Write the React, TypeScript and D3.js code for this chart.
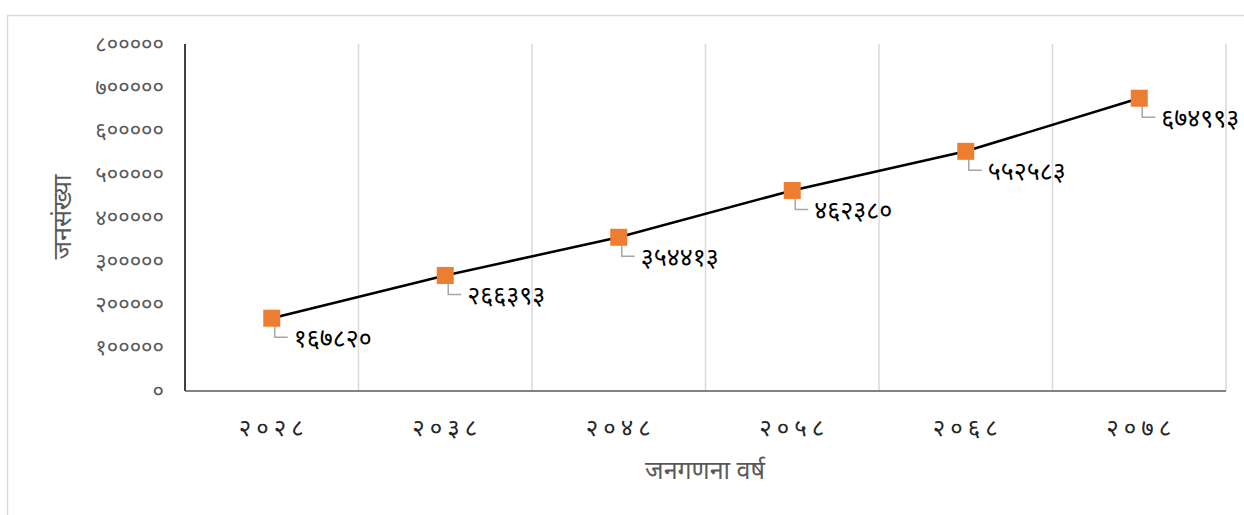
import * as d3 from 'd3';
import React, { useEffect, useRef } from 'react';

// census years (BS) and population
const years = ['२०२८', '२०३८', '२०४८', '२०५८', '२०६८', '२०७८'];
const population = [167820, 266393, 354413, 462380, 552583, 674993];
const yTicks = [0, 100000, 200000, 300000, 400000, 500000, 600000, 700000, 800000];

const xTitle = 'जनगणना वर्ष';
const yTitle = 'जनसंख्या';

const DEV_DIGITS = '०१२३४५६७८९';
const toDev = (n: number) => String(n).replace(/\d/g, c => DEV_DIGITS[+c]);

const FONT = "'Noto Sans Devanagari', 'Noto Sans', 'DejaVu Sans', sans-serif";

export default function App() {
  const svgRef = useRef<SVGSVGElement>(null);

  useEffect(() => {
    if (!svgRef.current) return;
    const width = 1244;
    const height = 515;
    const svg = d3.select(svgRef.current);
    svg.selectAll('*').remove();
    svg.attr('width', width).attr('height', height);

    // outer chart frame
    svg.append('rect')
      .attr('x', 7.5).attr('y', 15.5)
      .attr('width', 1300).attr('height', 600)
      .attr('fill', '#fff')
      .attr('stroke', '#d9d9d9')
      .attr('stroke-width', 1.5);

    const left = 185, right = 1226, top = 44, bottom = 391;

    const x = d3.scaleBand<string>().domain(years).range([left, right]);
    const y = d3.scaleLinear().domain([0, 800000]).range([bottom, top]);

    // vertical gridlines at category boundaries
    const bounds = years.map(d => (x(d) as number) + x.bandwidth());
    svg.append('g')
      .selectAll('line')
      .data(bounds)
      .join('line')
      .attr('x1', d => d).attr('x2', d => d)
      .attr('y1', top).attr('y2', bottom)
      .attr('stroke', '#d9d9d9')
      .attr('stroke-width', 1.5);

    // axes lines
    svg.append('line')
      .attr('x1', left).attr('x2', left)
      .attr('y1', top).attr('y2', bottom)
      .attr('stroke', '#000').attr('stroke-width', 1.5);
    svg.append('line')
      .attr('x1', left).attr('x2', right)
      .attr('y1', bottom).attr('y2', bottom)
      .attr('stroke', '#595959').attr('stroke-width', 1.5);

    // y tick labels
    svg.append('g')
      .selectAll('text')
      .data(yTicks)
      .join('text')
      .attr('x', 164)
      .attr('y', d => y(d))
      .attr('dy', '0.35em')
      .attr('text-anchor', 'end')
      .attr('fill', '#595959')
      .style('font-family', FONT)
      .style('font-size', '22px')
      .text(d => toDev(d));

    // x tick labels
    svg.append('g')
      .selectAll('text')
      .data(years)
      .join('text')
      .attr('x', d => (x(d) as number) + x.bandwidth() / 2 + 2)
      .attr('y', 428)
      .attr('dy', '0.35em')
      .attr('text-anchor', 'middle')
      .attr('fill', '#262626')
      .style('font-family', FONT)
      .style('font-size', '24px')
      .style('letter-spacing', '5px')
      .text(d => d);

    // axis titles
    svg.append('text')
      .attr('x', 705).attr('y', 470)
      .attr('dy', '0.35em')
      .attr('text-anchor', 'middle')
      .attr('fill', '#595959')
      .style('font-family', FONT)
      .style('font-size', '25px')
      .text(xTitle);

    svg.append('text')
      .attr('transform', `translate(62,217) rotate(-90)`)
      .attr('dy', '0.35em')
      .attr('text-anchor', 'middle')
      .attr('fill', '#595959')
      .style('font-family', FONT)
      .style('font-size', '25px')
      .text(yTitle);

    const pts = years.map((d, i) => ({
      cx: (x(d) as number) + x.bandwidth() / 2,
      cy: y(population[i]),
      v: population[i],
    }));

    // line
    const line = d3.line<{ cx: number; cy: number }>().x(d => d.cx).y(d => d.cy);
    svg.append('path')
      .datum(pts)
      .attr('d', line)
      .attr('fill', 'none')
      .attr('stroke', '#000')
      .attr('stroke-width', 2.5);

    // leader lines
    svg.append('g')
      .selectAll('path')
      .data(pts)
      .join('path')
      .attr('d', d => `M${d.cx + 3},${d.cy - 4}V${d.cy + 19}H${d.cx + 16}`)
      .attr('fill', 'none')
      .attr('stroke', '#a6a6a6')
      .attr('stroke-width', 1.5);

    // markers
    const s = 17;
    svg.append('g')
      .selectAll('rect')
      .data(pts)
      .join('rect')
      .attr('x', d => d.cx - s / 2)
      .attr('y', d => d.cy - s / 2)
      .attr('width', s).attr('height', s)
      .attr('fill', '#ed7d31');

    // data labels
    svg.append('g')
      .selectAll('text')
      .data(pts)
      .join('text')
      .attr('x', d => d.cx + 22)
      .attr('y', d => d.cy + 20)
      .attr('dy', '0.35em')
      .attr('fill', '#000')
      .style('font-family', FONT)
      .style('font-size', '25px')
      .text(d => toDev(d.v));
  }, []);

  return (
    <div>
      <style>{'body{margin:0}'}</style>
      <svg ref={svgRef} style={{ display: 'block' }} />
    </div>
  );
}
